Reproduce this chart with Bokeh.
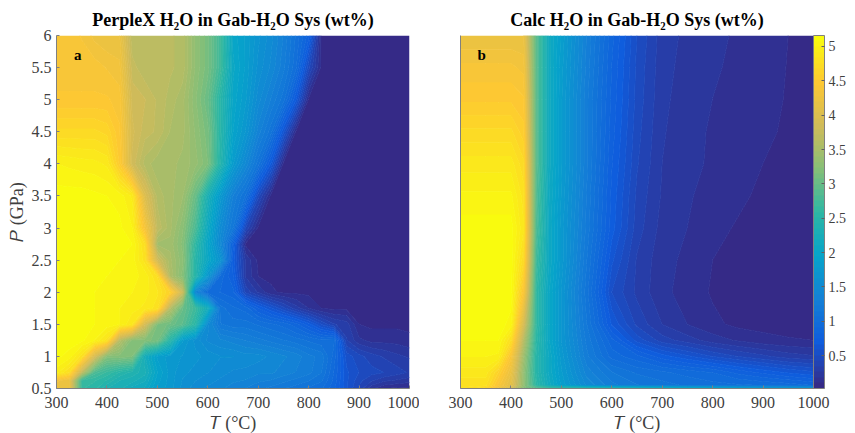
import numpy as np
from bokeh.plotting import figure
from bokeh.layouts import row
from bokeh.models import ColorBar, FixedTicker, Label, LinearColorMapper, Range1d, Spacer
from bokeh.embed import file_html
from bokeh.resources import INLINE

title_a = "PerpleX H₂O in Gab-H₂O Sys (wt%)"
title_b = "Calc H₂O in Gab-H₂O Sys (wt%)"
x_label = "𝑇 (°C)"
y_label = "𝑃 (GPa)"
x_ticks = [300, 400, 500, 600, 700, 800, 900, 1000]
y_ticks = [0.5, 1, 1.5, 2, 2.5, 3, 3.5, 4, 4.5, 5, 5.5, 6]
bar_ticks = [0.5, 1, 1.5, 2, 2.5, 3, 3.5, 4, 4.5, 5]
z_low, z_high = 0.02, 5.16

T_a = [300, 325, 350, 375, 400, 425, 450, 475, 500, 525, 550, 575, 600, 625, 650,
       675, 700, 725, 750, 775, 800, 825, 850, 875, 900, 925, 950, 975, 1000]
P_a = [0.5, 0.625, 0.75, 1, 1.25, 1.5, 1.75, 2, 2.25, 2.5, 2.75, 3, 3.5, 4, 4.5, 5, 5.5, 6]
Z_a = [
 [4.2,4.2,2.6,2.55,2.35,2.3,2.15,2.1,1.85,1.75,1.6,1.5,1.45,1.4,1.35,1.3,1.25,1.2,1.15,1.1,1.05,1.0,.85,.6,.4,.2,.1,.08,.07],
 [4.3,4.2,2.65,2.6,2.5,2.35,2.3,2.2,1.9,1.75,1.62,1.55,1.5,1.45,1.4,1.38,1.32,1.3,1.25,1.2,1.15,1.08,.88,.6,.45,.35,.28,.25,.22],
 [4.95,4.75,3.7,2.8,2.65,2.5,2.4,2.3,1.95,1.75,1.65,1.6,1.55,1.5,1.45,1.45,1.4,1.4,1.35,1.3,1.25,1.15,.9,.6,.5,.45,.42,.38,.33],
 [5.1,5.05,4.8,3.92,3.2,3.2,3.15,2.2,1.85,1.75,1.7,1.65,1.6,1.55,1.55,1.5,1.5,1.45,1.4,1.35,1.25,1.2,.95,.55,.45,.38,.33,.28,.25],
 [5.12,5.12,5.1,5.0,4.8,3.6,3.2,3.2,3.1,2.5,1.8,1.6,1.45,1.4,1.35,1.3,1.25,1.2,1.15,1.1,1.05,1.0,1.0,.35,.2,.15,.15,.15,.12],
 [5.12,5.12,5.1,5.08,5.05,5.0,4.85,3.9,3.15,3.05,2.9,2.55,1.5,1.15,1.1,1.1,1.05,1.0,.95,.85,.7,.5,.35,.3,.1,.08,.08,.08,.08],
 [5.12,5.1,5.1,5.08,5.05,5.0,4.95,4.9,4.8,3.6,3.0,2.7,2.2,1.1,1.0,.95,.75,.6,.45,.3,.18,.1,.08,.08,.08,.08,.08,.08,.08],
 [5.12,5.12,5.1,5.08,5.05,5.02,5.0,4.95,4.85,4.6,3.8,1.4,.95,.9,.85,.4,.25,.12,.08,.08,.08,.08,.08,.08,.08,.08,.08,.08,.08],
 [5.12,5.12,5.12,5.1,5.08,5.05,5.02,4.98,4.75,3.55,3.2,2.5,1.7,.95,.75,.25,.1,.08,.08,.08,.08,.08,.08,.08,.08,.08,.08,.08,.08],
 [5.12,5.12,5.12,5.12,5.1,5.08,5.05,4.8,3.85,3.5,3.25,2.5,2.05,1.65,.7,.25,.08,.08,.08,.08,.08,.08,.08,.08,.08,.08,.08,.08,.08],
 [5.12,5.12,5.12,5.12,5.12,5.1,5.08,4.75,3.45,3.45,3.2,2.6,2.0,1.45,.78,.08,.08,.08,.08,.08,.08,.08,.08,.08,.08,.08,.08,.08,.08],
 [5.12,5.12,5.12,5.12,5.12,5.1,5.0,4.35,3.7,3.5,3.25,2.8,2.1,1.5,1.15,.42,.08,.08,.08,.08,.08,.08,.08,.08,.08,.08,.08,.08,.08],
 [5.12,5.12,5.12,5.1,5.08,5.05,4.9,4.0,3.6,3.5,3.4,3.0,2.3,1.75,1.3,1.05,.45,.08,.08,.08,.08,.08,.08,.08,.08,.08,.08,.08,.08],
 [5.0,4.98,4.96,4.95,4.9,4.5,3.85,3.6,3.5,3.5,3.45,3.35,3.15,2.45,1.8,1.45,1.1,.66,.08,.08,.08,.08,.08,.08,.08,.08,.08,.08,.08],
 [4.7,4.7,4.7,4.7,4.65,4.45,3.9,3.75,3.7,3.55,3.5,3.3,3.1,2.5,1.95,1.7,1.35,1.1,.6,.08,.08,.08,.08,.08,.08,.08,.08,.08,.08],
 [4.45,4.45,4.45,4.45,4.45,4.4,3.85,3.8,3.7,3.6,3.5,3.25,3.0,2.5,2.0,1.8,1.5,1.3,1.1,.66,.08,.08,.08,.08,.08,.08,.08,.08,.08],
 [4.4,4.4,4.4,4.4,4.35,4.3,3.75,3.65,3.65,3.65,3.6,3.3,3.1,2.7,2.05,1.85,1.6,1.45,1.25,1.0,.45,.08,.08,.08,.08,.08,.08,.08,.08],
 [4.4,4.4,4.35,4.25,4.2,4.2,3.65,3.65,3.65,3.65,3.6,3.3,3.1,2.7,2.0,1.85,1.65,1.5,1.3,1.05,.78,.08,.08,.08,.08,.08,.08,.08,.08],
]

T_b = [300, 350, 375, 400, 425, 450, 475, 500, 550, 600, 650, 700, 750, 800, 850, 900, 950, 1000]
P_b = [0.5, 0.55, 0.75, 1, 1.25, 1.5, 2, 2.5, 3, 3.5, 4, 4.5, 5, 5.5, 6]
Z_b = [
 [4.75,4.6,4.2,3.9,3.2,2.9,2.7,2.6,2.5,2.4,2.3,2.2,2.1,2.0,1.9,1.8,1.75,1.7],
 [4.78,4.78,4.4,4.1,3.3,2.55,2.15,1.85,1.45,1.25,1.15,1.1,1.05,1.02,1.0,.98,.95,.9],
 [4.88,4.88,4.6,4.2,3.3,2.5,2.1,1.8,1.35,1.15,1.05,1.0,.95,.9,.8,.72,.65,.6],
 [5.0,5.0,4.98,4.4,3.4,2.5,2.1,1.75,1.25,.95,.85,.7,.6,.5,.42,.36,.3,.27],
 [5.08,5.08,5.08,4.75,3.6,2.55,2.05,1.7,1.2,.85,.55,.38,.3,.22,.17,.13,.11,.1],
 [5.12,5.12,5.12,5.05,3.9,2.6,2.05,1.7,1.15,.65,.4,.26,.18,.12,.08,.07,.06,.06],
 [5.12,5.12,5.12,5.12,4.4,2.6,2.05,1.7,1.1,.5,.32,.2,.15,.09,.07,.06,.05,.05],
 [5.12,5.12,5.12,5.12,4.7,2.7,2.1,1.75,1.15,.6,.33,.21,.16,.1,.07,.06,.05,.05],
 [5.12,5.12,5.12,5.12,4.85,2.8,2.1,1.75,1.2,.7,.38,.23,.18,.13,.09,.07,.06,.05],
 [5.02,5.02,5.02,5.02,4.8,2.85,2.12,1.78,1.22,.72,.4,.25,.19,.15,.12,.08,.07,.055],
 [4.88,4.88,4.88,4.88,4.7,2.9,2.15,1.8,1.25,.75,.43,.26,.2,.17,.14,.1,.08,.06],
 [4.7,4.7,4.7,4.7,4.55,2.9,2.15,1.8,1.25,.78,.45,.27,.21,.17,.15,.12,.085,.065],
 [4.5,4.5,4.5,4.5,4.45,2.9,2.15,1.8,1.25,.8,.47,.28,.22,.18,.16,.14,.09,.07],
 [4.38,4.38,4.38,4.38,4.33,2.9,2.15,1.82,1.28,.82,.48,.29,.23,.19,.165,.15,.095,.075],
 [4.2,4.2,4.2,4.2,4.2,2.9,2.15,1.85,1.3,.85,.5,.3,.24,.2,.17,.16,.1,.08],
]

anchors = ["#352a87", "#0f5cdd", "#1481d6", "#06a4ca", "#2eb7a4", "#87bf77", "#d1bb59", "#fec832", "#f9fb0e"]
rgb = np.array([[int(c[i:i + 2], 16) for i in (1, 3, 5)] for c in anchors], float)
pos = np.linspace(0, 1, 64)
palette = ["#%02x%02x%02x" % tuple(int(round(np.interp(t, np.linspace(0, 1, 9), rgb[:, k]))) for k in range(3)) for t in pos]
levels = np.linspace(z_low, z_high, 65)

SERIF = "Liberation Serif"
GRAY = "#404040"


def panel(title, T, P, Z, letter, left, right, show_y):
    p = figure(output_backend="svg", toolbar_location=None,
               x_range=Range1d(300, 1000), y_range=Range1d(0.5, 6),
               min_border_left=left, min_border_right=right, min_border_top=35, min_border_bottom=45,
               frame_width=353, frame_height=353)
    p.contour(T, P, np.array(Z), levels, fill_color=palette, line_color=palette + [palette[-1]], line_width=1)
    p.title.text = title
    p.title.align = "center"
    p.title.text_font = SERIF
    p.title.text_font_size = "18px"
    p.title.text_font_style = "bold"
    p.title.text_color = "black"
    p.title.offset = 0
    p.title.standoff = 12
    p.grid.visible = False
    p.outline_line_color = None
    p.xaxis.ticker = FixedTicker(ticks=x_ticks)
    p.xaxis.axis_label = x_label
    p.xaxis.major_label_overrides = {t: str(t) for t in x_ticks}
    p.yaxis.ticker = FixedTicker(ticks=y_ticks if show_y else [])
    p.yaxis.major_label_overrides = {t: f"{t:g}" for t in y_ticks}
    for ax in (p.xaxis, p.yaxis):
        ax.major_tick_in = 3
        ax.major_tick_out = 0
        ax.minor_tick_line_color = None
        ax.axis_line_color = "#808080"
        ax.major_tick_line_color = "#808080"
        ax.major_label_text_font = SERIF
        ax.major_label_text_font_size = "16px"
        ax.major_label_text_color = GRAY
        ax.axis_label_text_font = SERIF
        ax.axis_label_text_font_size = "18px"
        ax.axis_label_text_font_style = "normal"
        ax.axis_label_text_color = GRAY
        ax.axis_label_standoff = 2
    p.xaxis.major_label_standoff = 8
    p.yaxis.major_label_standoff = 5
    if show_y:
        p.yaxis.axis_label = y_label
    p.add_layout(Label(x=342, y=5.7, text=letter, text_font=SERIF, text_font_size="15px",
                       text_font_style="bold", text_color="black", text_align="center", text_baseline="middle"))
    return p


p1 = panel(title_a, T_a, P_a, Z_a, "a", 48, 10, True)
p2 = panel(title_b, T_b, P_b, Z_b, "b", 41, 0, False)
mapper = LinearColorMapper(palette=palette, low=z_low, high=z_high)
bar = ColorBar(color_mapper=mapper, ticker=FixedTicker(ticks=bar_ticks), width=11, padding=0, margin=8,
               major_label_overrides={t: f"{t:g}" for t in bar_ticks},
               major_label_text_font=SERIF, major_label_text_font_size="14px", major_label_text_color=GRAY,
               major_tick_line_color="#606060", major_tick_in=3, minor_tick_line_color=None,
               bar_line_color="#808080", label_standoff=4, border_line_color=None, background_fill_color=None)
p2.add_layout(bar, "right")

html = file_html(row(Spacer(width=3, height=10), p1, p2, spacing=0), INLINE)
html = html.replace("</head>", "<style>body{margin-bottom:0;margin-top:0}</style></head>", 1)
open("out.html", "w").write(html)
